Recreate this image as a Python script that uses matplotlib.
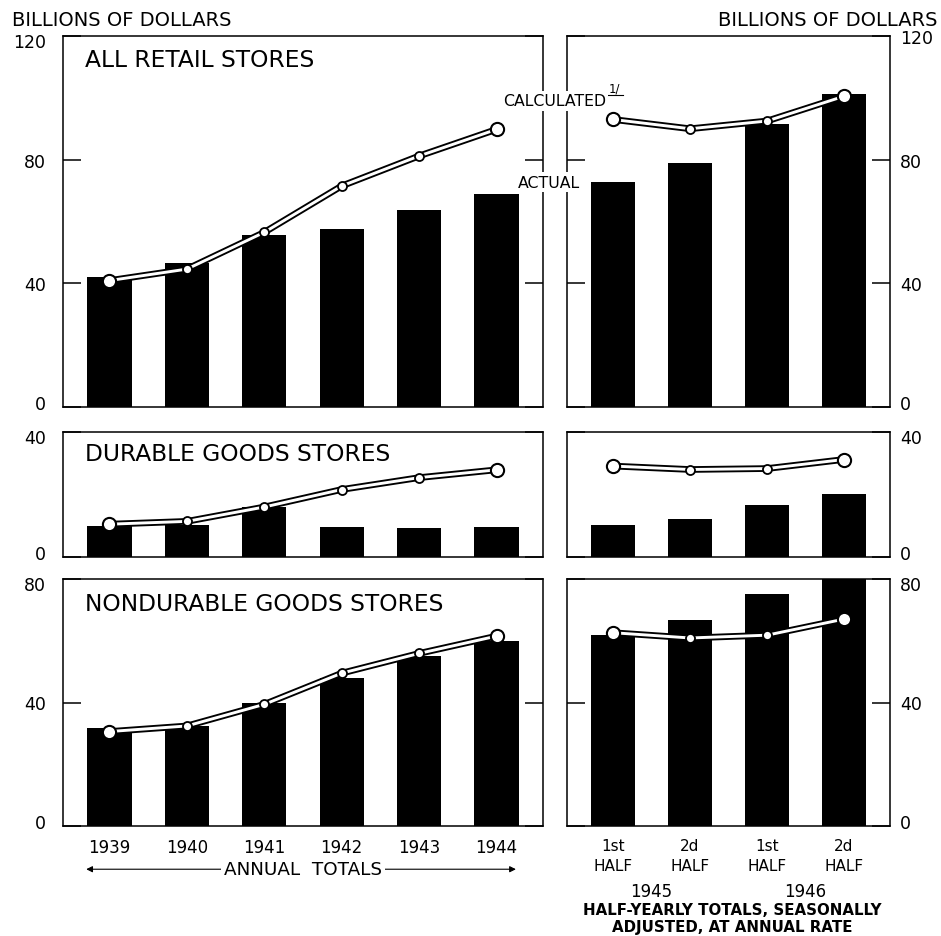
import matplotlib.pyplot as plt
from matplotlib.lines import Line2D
from matplotlib.transforms import ScaledTranslation
import numpy as np

# annual totals 1939-1944 and half-yearly 1945-1946 (billions of dollars)
years = ['1939', '1940', '1941', '1942', '1943', '1944']
halves = ['1st\nHALF', '2d\nHALF', '1st\nHALF', '2d\nHALF']
half_years = ['1945', '1946']

all_actual_yr = [42.0, 46.5, 55.6, 57.5, 63.7, 68.8]
all_calc_yr = [40.9, 44.6, 56.5, 71.5, 81.2, 89.8]
all_actual_half = [72.8, 78.8, 91.4, 101.3]
all_calc_half = [93.0, 90.0, 92.5, 100.5]

dur_actual_yr = [10.0, 10.2, 16.0, 9.7, 9.4, 9.7]
dur_calc_yr = [10.5, 11.4, 16.0, 21.6, 25.4, 27.9]
dur_actual_half = [10.1, 12.1, 16.8, 20.3]
dur_calc_half = [29.1, 28.0, 28.3, 31.2]

nondur_actual_yr = [31.7, 32.5, 39.9, 47.9, 54.9, 59.9]
nondur_calc_yr = [30.6, 32.4, 39.4, 49.5, 55.9, 61.5]
nondur_actual_half = [61.8, 66.8, 75.0, 81.0]
nondur_calc_half = [62.6, 60.9, 61.8, 67.0]

titles = ['ALL RETAIL STORES', 'DURABLE GOODS STORES', 'NONDURABLE GOODS STORES']
ymax = [120, 40, 80]
yticks = [[0, 40, 80, 120], [0, 40], [0, 40, 80]]

panels = [
    (all_actual_yr, all_calc_yr, all_actual_half, all_calc_half),
    (dur_actual_yr, dur_calc_yr, dur_actual_half, dur_calc_half),
    (nondur_actual_yr, nondur_calc_yr, nondur_actual_half, nondur_calc_half),
]

W, H = 941, 937
fig = plt.figure(figsize=(W / 100, H / 100), dpi=100)

# (top px, bottom px) of each row
rows_px = [(37, 408), (433, 558), (580, 827)]
left_px = (63, 543)
right_px = (567, 890)


def frac_box(xpx, ypx):
    return [xpx[0] / W, 1 - ypx[1] / H, (xpx[1] - xpx[0]) / W, (ypx[1] - ypx[0]) / H]


def draw_series(ax, actual, calc):
    x = np.arange(len(actual))
    ax.bar(x, actual, width=0.57, color='black', zorder=2)
    ax.plot(x, calc, color='black', lw=4.8, zorder=3, solid_capstyle='round')
    ax.plot(x, calc, color='white', lw=2.1, zorder=4, solid_capstyle='round')
    ax.plot(x[1:-1], np.array(calc)[1:-1], ls='none', marker='o', ms=6.5,
            mfc='white', mec='black', mew=1.3, zorder=5)
    ax.plot(x[[0, -1]], np.array(calc)[[0, -1]], ls='none', marker='o', ms=9.5,
            mfc='white', mec='black', mew=1.5, zorder=5)


def nudge(label, dy_px):
    label.set_transform(label.get_transform() + ScaledTranslation(0, dy_px / 100, fig.dpi_scale_trans))


axes_left, axes_right = [], []
for i, (top, bot) in enumerate(rows_px):
    a_yr, c_yr, a_h, c_h = panels[i]
    axl = fig.add_axes(frac_box(left_px, (top, bot)))
    axr = fig.add_axes(frac_box(right_px, (top, bot)))
    draw_series(axl, a_yr, c_yr)
    draw_series(axr, a_h, c_h)
    axl.set_xlim(-0.6, 5.6)
    axr.set_xlim(-0.6, 3.6)
    for ax in (axl, axr):
        ax.set_ylim(0, ymax[i])
        ax.set_yticks(yticks[i])
        ax.set_yticklabels([str(v) for v in yticks[i]])
        for s in ax.spines.values():
            s.set_linewidth(1.1)
        ax.tick_params(axis='y', direction='in', length=13, width=1.1,
                       left=True, right=True, labelsize=12.5)
        ax.tick_params(axis='x', length=0, pad=9, labelsize=12)
        ax.set_xticks([])
    axl.tick_params(axis='y', labelleft=True, labelright=False, pad=12)
    axr.tick_params(axis='y', labelleft=False, labelright=True, pad=7)
    for ax in (axl, axr):
        labs = ax.get_yticklabels()
        nudge(labs[0], 5)
        if not (ax is axr and i == 0):
            nudge(labs[-1], -4)
    axl.text(0.046, {0: 0.938, 1: 0.824, 2: 0.899}[i], titles[i],
             transform=axl.transAxes, fontsize=16.8, va='center', ha='left')
    axes_left.append(axl)
    axes_right.append(axr)

# x labels at the bottom
axb = axes_left[2]
axb.set_xticks(range(len(years)))
axb.set_xticklabels(years)
axb.annotate('', xy=(-0.3, -0.175), xytext=(5.25, -0.175),
             xycoords=('data', 'axes fraction'), textcoords=('data', 'axes fraction'),
             arrowprops=dict(arrowstyle='<|-|>', lw=0.8, color='black',
                             mutation_scale=9, shrinkA=0, shrinkB=0))
axb.annotate('ANNUAL  TOTALS', xy=(2.5, -0.175), xycoords=('data', 'axes fraction'),
             ha='center', va='center', fontsize=13.2,
             bbox=dict(facecolor='white', edgecolor='none', pad=2))

axr = axes_right[2]
axr.set_xticks(range(len(halves)))
axr.set_xticklabels(halves, fontsize=11, linespacing=1.35)
for j, yr in enumerate(half_years):
    axr.annotate(yr, xy=(2 * j + 0.5, 0), xycoords=('data', 'axes fraction'),
                 xytext=(0, -47), textcoords='offset points',
                 ha='center', va='center', fontsize=12)
fig.text(732 / W, 1 - 919 / H, 'HALF-YEARLY TOTALS, SEASONALLY\nADJUSTED, AT ANNUAL RATE',
         ha='center', va='center', fontsize=10.8, fontweight='bold', linespacing=1.2)

# unit labels
fig.text(12 / W, 1 - 20 / H, 'BILLIONS OF DOLLARS', ha='left', va='center', fontsize=14)
fig.text(938 / W, 1 - 20 / H, 'BILLIONS OF DOLLARS', ha='right', va='center', fontsize=14)

# series labels between the top panels
fig.text(606 / W, 1 - 102 / H, 'CALCULATED', ha='right', va='center', fontsize=11.3,
         bbox=dict(facecolor='white', edgecolor='none', pad=1.5))
fig.text(609 / W, 1 - 89 / H, '1/', ha='left', va='center', fontsize=8.5)
fig.add_artist(Line2D([607 / W, 623 / W], [1 - 96 / H, 1 - 96 / H], color='black', lw=0.8))
fig.text(549 / W, 1 - 183 / H, 'ACTUAL', ha='center', va='center', fontsize=11.3,
         bbox=dict(facecolor='white', edgecolor='none', pad=1.5))

fig.savefig('out.png', dpi=100)
